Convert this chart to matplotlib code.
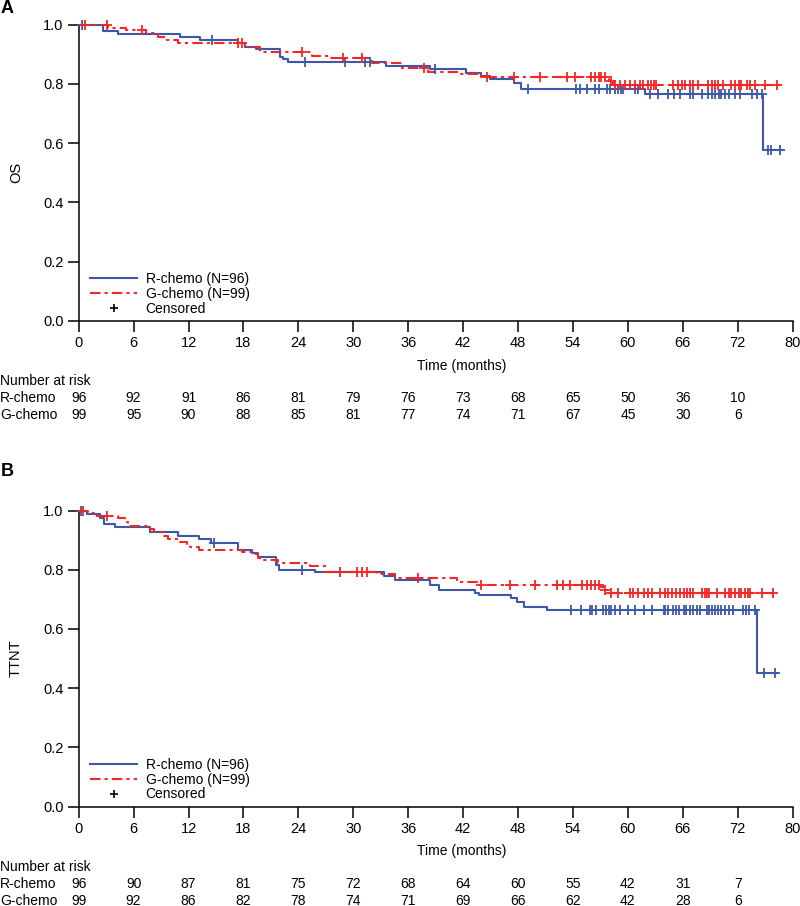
import numpy as np
import matplotlib.pyplot as plt
from matplotlib.lines import Line2D
import matplotlib.transforms as mtransforms

plt.rcParams['font.family'] = ['Liberation Sans', 'DejaVu Sans']

BLUE = '#3d58a8'
RED = '#f52525'

# ---- panel A: OS ----
a_r_t = [2.7, 4.3, 11.1, 13.25, 17.4, 18.2, 19.4, 22.0, 22.3, 22.9, 33.6, 38.4,
         42.3, 44.0, 44.9, 47.6, 48.3, 61.9, 74.8]
a_r_s = [0.980, 0.969, 0.957, 0.948, 0.937, 0.925, 0.918, 0.892, 0.883, 0.875, 0.861,
         0.850, 0.838, 0.827, 0.816, 0.802, 0.784, 0.766, 0.577]
a_r_c = [0.4, 14.6, 24.7, 29.1, 31.3, 31.8, 38.9, 49.1, 54.3, 54.8, 55.5, 56.4, 56.8,
         57.7, 58.0, 58.6, 58.9, 59.2, 59.5, 60.8, 61.1, 62.4, 63.3, 64.4, 65.0, 65.7,
         66.8, 67.1, 68.1, 68.8, 69.2, 69.5, 69.9, 70.2, 70.6, 71.0, 71.7, 72.2, 73.5,
         74.1, 74.6, 75.3, 75.6, 76.6]
a_r_end = 76.8

a_g_t = [3.2, 5.2, 7.4, 8.7, 9.6, 10.9, 18.2, 19.8, 25.5, 27.3, 32.0, 35.3, 38.2,
         41.7, 44.0, 57.9, 58.4]
a_g_s = [0.990, 0.982, 0.971, 0.959, 0.948, 0.939, 0.926, 0.909, 0.895, 0.886, 0.870,
         0.855, 0.841, 0.833, 0.822, 0.811, 0.796]
a_g_c = [0.7, 3.1, 6.9, 17.4, 17.8, 24.4, 28.9, 30.9, 37.7, 44.6, 47.5, 50.4, 53.3,
         54.2, 56.0, 56.4, 56.8, 57.1, 57.5, 58.1, 58.6, 59.1, 59.7, 60.2, 60.8, 61.3,
         61.7, 62.2, 62.5, 62.8, 63.1, 64.9, 65.5, 65.9, 66.2, 66.8, 67.1, 67.7, 68.8,
         69.2, 69.5, 69.8, 70.4, 71.3, 71.7, 72.1, 72.4, 73.0, 73.3, 73.9, 75.0, 76.3]
a_g_end = 76.6

a_risk_r = [96, 92, 91, 86, 81, 79, 76, 73, 68, 65, 50, 36, 10]
a_risk_g = [99, 95, 90, 88, 85, 81, 77, 74, 71, 67, 45, 30, 6]

# ---- panel B: TTNT ----
b_r_t = [0.9, 2.3, 2.8, 4.0, 7.8, 10.9, 13.1, 14.5, 17.4, 18.9, 19.6, 21.6, 21.9,
         25.8, 33.3, 34.6, 38.4, 39.4, 43.3, 43.7, 47.2, 47.9, 48.6, 51.2, 74.1]
b_r_s = [0.988, 0.973, 0.956, 0.945, 0.926, 0.913, 0.903, 0.889, 0.868, 0.857, 0.843,
         0.815, 0.799, 0.791, 0.780, 0.765, 0.748, 0.733, 0.722, 0.714, 0.703, 0.690,
         0.675, 0.664, 0.450]
b_r_c = [0.3, 14.8, 24.4, 53.8, 54.9, 55.9, 56.1, 56.5, 57.3, 57.6, 57.9, 58.2, 58.6,
         59.1, 60.0, 60.8, 61.8, 62.6, 63.9, 64.1, 64.4, 64.9, 65.2, 65.6, 66.1, 66.3,
         66.8, 67.1, 67.6, 67.9, 68.6, 68.9, 69.2, 69.5, 69.8, 70.2, 70.6, 71.0, 71.5,
         72.6, 72.9, 73.2, 73.9, 74.9, 76.1]
b_r_end = 76.3

b_g_t = [1.0, 1.8, 4.3, 5.1, 5.4, 7.8, 8.2, 9.1, 9.8, 11.1, 11.8, 12.2, 13.1, 17.8,
         18.9, 19.6, 19.8, 21.8, 25.3, 26.9, 32.6, 34.6, 41.3, 43.8, 57.1, 57.5, 57.9]
b_g_s = [0.990, 0.981, 0.973, 0.962, 0.947, 0.937, 0.926, 0.914, 0.903, 0.894, 0.886,
         0.878, 0.866, 0.860, 0.853, 0.841, 0.832, 0.824, 0.813, 0.793, 0.785, 0.772,
         0.759, 0.748, 0.740, 0.731, 0.722]
b_g_c = [0.5, 3.1, 28.5, 30.4, 30.9, 31.5, 37.1, 44.0, 47.1, 49.9, 52.2, 52.9, 53.7,
         55.0, 55.5, 56.0, 56.4, 56.8, 57.5, 58.2, 58.9, 60.2, 60.5, 61.1, 61.8, 62.2,
         62.6, 63.5, 64.1, 64.4, 64.8, 65.2, 65.7, 66.1, 66.4, 66.8, 67.1, 68.1, 68.4,
         68.6, 68.9, 69.7, 70.6, 71.0, 71.3, 71.7, 72.1, 72.4, 72.8, 73.1, 73.3, 74.6,
         75.9]
b_g_end = 76.1

b_risk_r = [96, 90, 87, 81, 75, 72, 68, 64, 60, 55, 42, 31, 7]
b_risk_g = [99, 92, 86, 82, 78, 74, 71, 69, 66, 62, 42, 28, 6]

risk_times = list(range(0, 73, 6))
xtick_pos = list(range(0, 73, 6)) + [78]
xtick_lab = [str(v) for v in range(0, 73, 6)] + ['80']
yticks = [0.0, 0.2, 0.4, 0.6, 0.8, 1.0]

W, H = 800, 906
fig = plt.figure(figsize=(W / 100, H / 100), dpi=100)


def km(ax, t, s, c, end, color, ls):
    x = np.r_[0, t, end]
    y = np.r_[1.0, s, s[-1]]
    ax.step(x, y, where='post', color=color, lw=1.5, ls=ls, clip_on=False, zorder=3)
    lev = np.r_[1.0, s]
    idx = np.searchsorted(t, c, side='right')
    ax.plot(c, lev[idx], ls='none', marker='+', ms=7, mew=1.3, color=color,
            clip_on=False, zorder=4)


def panel(top_px, letter, letter_px, ylab, r, g, risk_r, risk_g):
    bottom_px = top_px + 296
    ax = fig.add_axes([78.7 / W, 1 - bottom_px / H, 714 / W, 296 / H])
    km(ax, *r, BLUE, '-')
    km(ax, *g, RED, (0, (5, 2, 1.5, 2)))
    ax.set_xlim(0, 78)
    ax.set_ylim(0, 1.0)
    ax.set_xticks(xtick_pos)
    ax.set_xticklabels(xtick_lab)
    ax.set_yticks(yticks)
    ax.set_yticklabels(['%.1f' % v for v in yticks])
    ax.tick_params(direction='out', length=8, width=1.1, labelsize=10.5, pad=3)
    for sp in ['top', 'right']:
        ax.spines[sp].set_visible(False)
    for sp in ['left', 'bottom']:
        ax.spines[sp].set_linewidth(1.1)
    ax.set_ylabel(ylab, fontsize=10.5)
    ax.yaxis.set_label_coords(-0.078, 0.5)

    handles = [Line2D([], [], color=BLUE, lw=1.5),
               Line2D([], [], color=RED, lw=1.5, ls=(0, (5, 2, 1.5, 2))),
               Line2D([], [], color='black', ls='none', marker='+', ms=6, mew=1.2)]
    ax.legend(handles, ['R-chemo (N=96)', 'G-chemo (N=99)', 'Censored'],
              loc='lower left', bbox_to_anchor=(11.3 / 714, 5 / 296), frameon=False,
              fontsize=10, borderpad=0, borderaxespad=0, handlelength=3.4,
              handletextpad=0.6, labelspacing=0.05)

    fig.text(1 / W, 1 - letter_px / H, letter, fontsize=13, fontweight='bold',
             ha='left', va='center')

    fig.text(462 / W, 1 - (bottom_px + 45) / H, 'Time (months)', fontsize=10,
             ha='center', va='center')
    fig.text(0, 1 - (bottom_px + 60.5) / H, 'Number at risk', fontsize=10,
             ha='left', va='center')
    trans = mtransforms.blended_transform_factory(ax.transData, fig.transFigure)
    for row, (name, vals) in enumerate([('R-chemo', risk_r), ('G-chemo', risk_g)]):
        yy = 1 - (bottom_px + 77.5 + 16.7 * row) / H
        fig.text(0, yy, name, fontsize=10, ha='left', va='center')
        for tt, v in zip(risk_times, vals):
            ax.text(tt, yy, str(v), fontsize=10, ha='center', va='center',
                    transform=trans)
    return ax


panel(24.7, 'A', 8.5, 'OS', (a_r_t, a_r_s, a_r_c, a_r_end),
      (a_g_t, a_g_s, a_g_c, a_g_end), a_risk_r, a_risk_g)
panel(510.5, 'B', 472, 'TTNT', (b_r_t, b_r_s, b_r_c, b_r_end),
      (b_g_t, b_g_s, b_g_c, b_g_end), b_risk_r, b_risk_g)

fig.savefig('out.png', dpi=100)
